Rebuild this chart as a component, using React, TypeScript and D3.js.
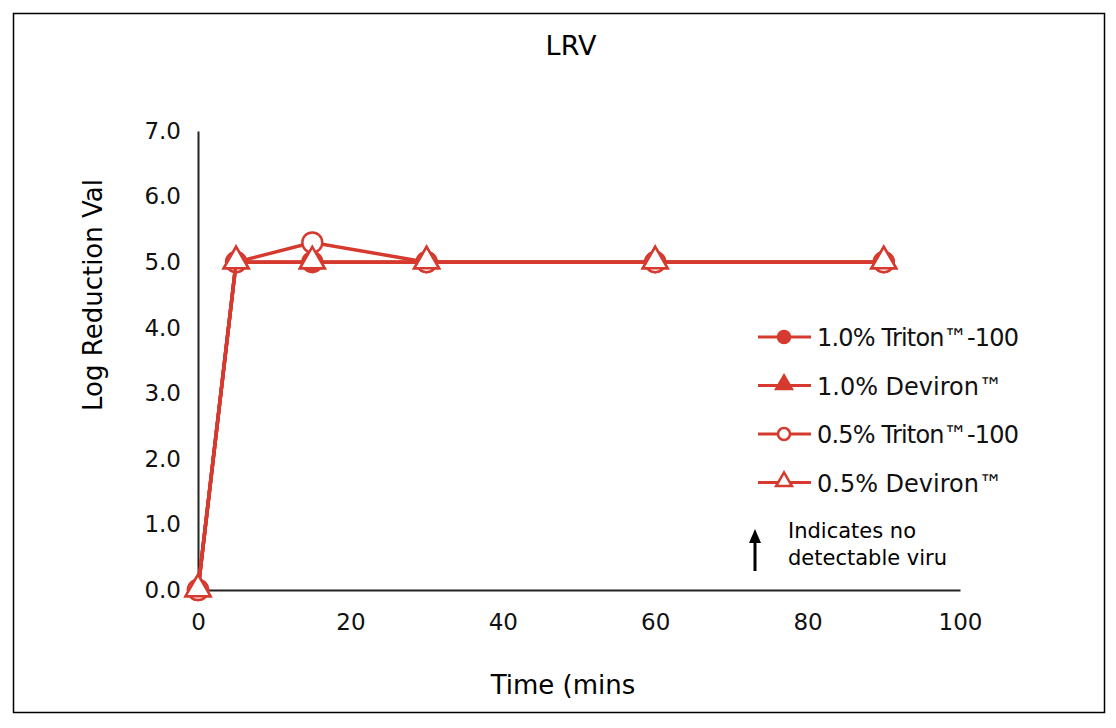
import React, { useEffect, useRef } from "react";
import * as d3 from "d3";

type Point = { t: number; v: number };

const times = [0, 5, 15, 30, 60, 90];
const triton10 = [0, 5, 5, 5, 5, 5];
const deviron10 = [0, 5, 5, 5, 5, 5];
const triton05 = [0, 5, 5.3, 5, 5, 5];
const deviron05 = [0, 5, 5, 5, 5, 5];

const seriesNames = ["1.0% Triton™-100", "1.0% Deviron™", "0.5% Triton™-100", "0.5% Deviron™"];
const seriesValues = [triton10, deviron10, triton05, deviron05];
const markers = ["circle", "triangle", "circle", "triangle"];
const filled = [true, true, false, false];

const yTicks = [0, 1, 2, 3, 4, 5, 6, 7];
const xTicks = [0, 20, 40, 60, 80, 100];

const RED = "#d63a2f";
const FONT = "DejaVu Sans, Verdana, sans-serif";

const App: React.FC = () => {
  const svgRef = useRef<SVGSVGElement | null>(null);

  useEffect(() => {
    if (!svgRef.current) return;
    const svg = d3.select(svgRef.current);
    svg.selectAll("*").remove();

    const width = 1116;
    const height = 728;
    svg.attr("width", width).attr("height", height);

    // frame
    svg.append("rect")
      .attr("x", 13.5).attr("y", 13.5)
      .attr("width", 1091).attr("height", 699)
      .attr("fill", "#fff").attr("stroke", "#000").attr("stroke-width", 1.5);

    const x = d3.scaleLinear().domain([0, 100]).range([198, 960]);
    const y = d3.scaleLinear().domain([0, 7]).range([590, 131]);

    // title
    svg.append("text")
      .attr("x", 571).attr("y", 55)
      .attr("text-anchor", "middle")
      .attr("font-family", FONT).attr("font-size", 27)
      .text("LRV");

    // y axis
    const yAxis = svg.append("g")
      .attr("transform", `translate(${x(0)},0)`)
      .call(d3.axisLeft(y).tickValues(yTicks).tickSize(0).tickPadding(17).tickFormat(d3.format(".1f")));
    yAxis.select(".domain").attr("stroke", "#222").attr("stroke-width", 2);
    yAxis.selectAll("text").attr("font-family", FONT).attr("font-size", 23).attr("fill", "#111");

    // x axis
    const xAxis = svg.append("g")
      .attr("transform", `translate(0,${y(0)})`)
      .call(d3.axisBottom(x).tickValues(xTicks).tickSize(0).tickPadding(24));
    xAxis.select(".domain").attr("stroke", "#222").attr("stroke-width", 2);
    xAxis.selectAll("text").attr("font-family", FONT).attr("font-size", 23).attr("fill", "#111");

    // axis titles
    svg.append("text")
      .attr("transform", `translate(102,295) rotate(-90)`)
      .attr("text-anchor", "middle")
      .attr("font-family", FONT).attr("font-size", 26)
      .text("Log Reduction Val");

    svg.append("text")
      .attr("x", 563).attr("y", 694)
      .attr("text-anchor", "middle")
      .attr("font-family", FONT).attr("font-size", 26)
      .text("Time (mins");

    const line = d3.line<Point>().x(d => x(d.t)).y(d => y(d.v));

    const drawMarker = (g: d3.Selection<SVGGElement, unknown, null, undefined>, kind: string, full: boolean, cx: number, cy: number, r: number) => {
      if (kind === "circle") {
        g.append("circle")
          .attr("cx", cx).attr("cy", cy).attr("r", r)
          .attr("fill", full ? RED : "#fff")
          .attr("stroke", RED).attr("stroke-width", 2.5);
      } else {
        g.append("path")
          .attr("d", d3.symbol().type(d3.symbolTriangle).size(r * r * 2.2)())
          .attr("transform", `translate(${cx},${cy - 1})`)
          .attr("fill", full ? RED : "#fff")
          .attr("stroke", RED).attr("stroke-width", 2.5);
      }
    };

    const plot = svg.append("g");
    seriesValues.forEach((vals, i) => {
      const pts: Point[] = times.map((t, j) => ({ t, v: vals[j] }));
      plot.append("path")
        .datum(pts)
        .attr("d", line)
        .attr("fill", "none")
        .attr("stroke", RED)
        .attr("stroke-width", 3.5);
      const mg = plot.append("g");
      pts.forEach(p => drawMarker(mg, markers[i], filled[i], x(p.t), y(p.v), markers[i] === "circle" ? 10 : 11));
    });

    // legend
    const legend = svg.append("g");
    seriesNames.forEach((name, i) => {
      const ly = 337 + i * 48.5;
      legend.append("line")
        .attr("x1", 758).attr("x2", 811).attr("y1", ly).attr("y2", ly)
        .attr("stroke", RED).attr("stroke-width", 3);
      drawMarker(legend, markers[i], filled[i], 784, ly, markers[i] === "circle" ? 6 : 7);
      legend.append("text")
        .attr("x", 817).attr("y", ly + 9)
        .attr("font-family", FONT).attr("font-size", 24)
        .attr("letter-spacing", name.length > 14 ? -0.8 : 0)
        .attr("fill", "#111")
        .text(name);
    });

    // note
    svg.append("line")
      .attr("x1", 755).attr("x2", 755).attr("y1", 571).attr("y2", 538)
      .attr("stroke", "#000").attr("stroke-width", 3);
    svg.append("path")
      .attr("d", "M749,543 L755,529 L761,543 Z")
      .attr("fill", "#000");
    svg.append("text")
      .attr("x", 788).attr("y", 538)
      .attr("font-family", FONT).attr("font-size", 21)
      .text("Indicates no");
    svg.append("text")
      .attr("x", 788).attr("y", 565)
      .attr("font-family", FONT).attr("font-size", 21)
      .text("detectable viru");
  }, []);

  return <svg ref={svgRef} style={{ position: "absolute", left: 0, top: 0 }}></svg>;
};

export default App;
